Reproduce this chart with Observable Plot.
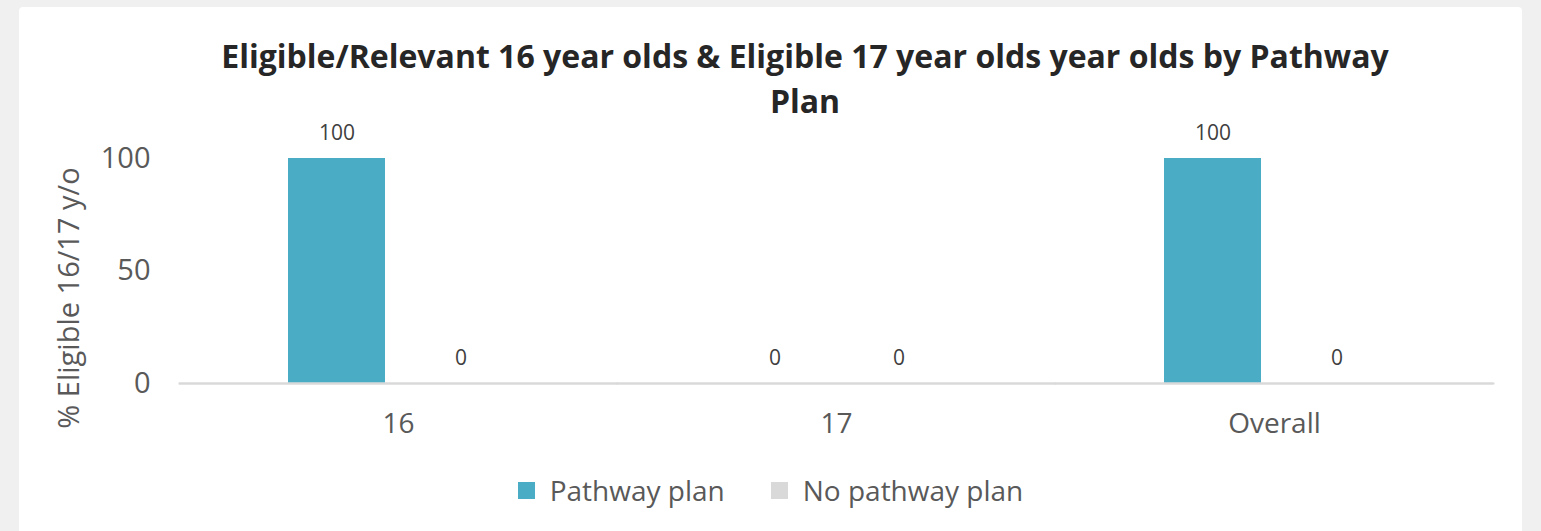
<!DOCTYPE html>
<html>
<head>
<meta charset="utf-8">
<script src="https://cdn.jsdelivr.net/npm/d3@7"></script>
<script src="https://cdn.jsdelivr.net/npm/@observablehq/plot@0.6"></script>
<style>
  html, body { margin: 0; padding: 0; background: #f0f0f0; width: 1541px; height: 531px; overflow: hidden; font-family: "Open Sans", "Noto Sans", sans-serif; }
  #card { position: absolute; left: 19px; top: 7px; width: 1503px; height: 540px; background: #fff; border-radius: 4px; }
  #title { position: absolute; left: 105px; width: 1400px; top: 33px; text-align: center; font-size: 32px; font-weight: 700; color: #262626; line-height: 45px; z-index: 2; }
  #chart { position: absolute; left: 0; top: 114px; z-index: 1; }
  #legend { position: absolute; left: 0; width: 1541px; top: 471px; display: flex; justify-content: center; align-items: center; gap: 46px; font-size: 28px; color: #595959; }
  .item { display: flex; align-items: center; }
  .sw { width: 17px; height: 17px; margin-right: 15px; }
</style>
</head>
<body>
<div id="card"></div>
<div id="title">Eligible/Relevant 16 year olds &amp; Eligible 17 year olds year olds by Pathway<br>Plan</div>
<div id="chart"></div>
<div id="legend"></div>
<script>
const categories = ["16", "17", "Overall"];
const seriesNames = ["Pathway plan", "No pathway plan"];
const pathwayPlan = [100, 0, 100];
const noPathwayPlan = [0, 0, 0];
const yTicks = [0, 50, 100];
const colors = ["#4BACC6", "#D9D9D9"];

const rows = [];
categories.forEach((c, i) => {
  rows.push({category: c, series: seriesNames[0], value: pathwayPlan[i]});
  rows.push({category: c, series: seriesNames[1], value: noPathwayPlan[i]});
});

const plot = Plot.plot({
  width: 1541,
  height: 336,
  marginLeft: 179,
  marginRight: 48,
  marginTop: 44,
  marginBottom: 67,
  style: { fontFamily: "'Open Sans', 'Noto Sans', sans-serif", background: "transparent", overflow: "visible" },
  fx: { domain: categories, padding: 0, label: null },
  x: { domain: seriesNames, paddingInner: 0.22, paddingOuter: 0.87, axis: null },
  y: { domain: [0, 100], label: null },
  color: { domain: seriesNames, range: colors },
  marks: [
    Plot.barY(rows, { fx: "category", x: "series", y: "value", fill: "series" }),
    Plot.text(rows, { fx: "category", x: "series", y: "value", text: d => String(d.value), dy: -25, fontSize: 21, fill: "#404040" }),
    Plot.axisY({ ticks: yTicks, tickSize: 0, tickPadding: 29, fontSize: 29, color: "#595959", label: null }),
    Plot.axisFx({ anchor: "bottom", tickSize: 0, tickPadding: 30, fontSize: 28, color: "#595959", label: null }),
    Plot.ruleY([0], { stroke: "#d9d9d9", strokeWidth: 2, facet: "exclude" }),
    Plot.frame({ anchor: "bottom", stroke: "#d9d9d9", strokeWidth: 2 })
  ]
});
document.getElementById("chart").appendChild(plot);

// y-axis title as real SVG text
const svg = d3.select(plot);
svg.append("text")
  .attr("transform", "translate(79, 184) rotate(-90)")
  .attr("text-anchor", "middle")
  .attr("font-size", 29)
  .attr("fill", "#595959")
  .attr("font-family", "'Open Sans', 'Noto Sans', sans-serif")
  .text("% Eligible 16/17 y/o");

const legend = document.getElementById("legend");
seriesNames.forEach((s, i) => {
  const it = document.createElement("div");
  it.className = "item";
  const sw = document.createElement("div");
  sw.className = "sw";
  sw.style.background = colors[i];
  const t = document.createElement("span");
  t.textContent = s;
  it.appendChild(sw); it.appendChild(t);
  legend.appendChild(it);
});
</script>
</body>
</html>
